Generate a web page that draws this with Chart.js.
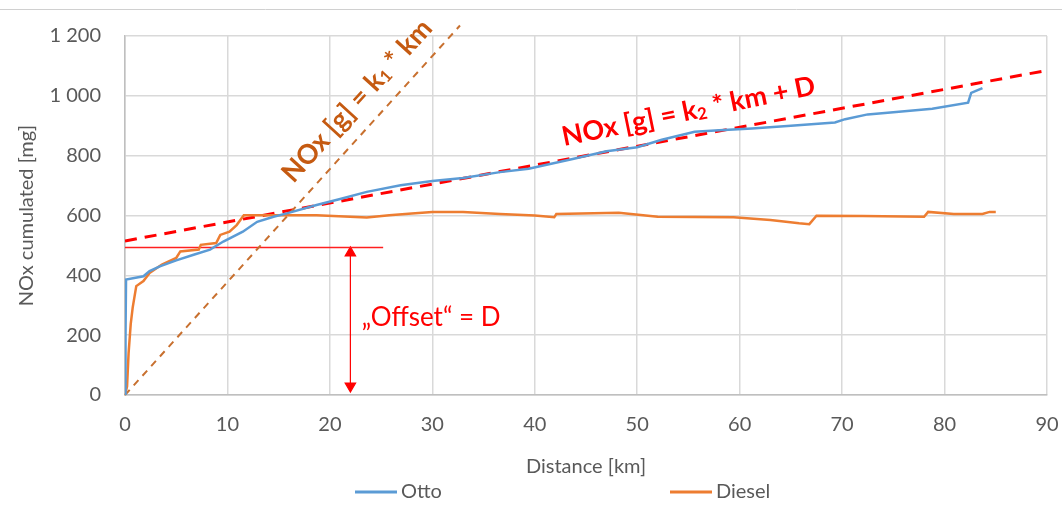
<!DOCTYPE html>
<html>
<head>
<meta charset="utf-8">
<script src="https://cdn.jsdelivr.net/npm/chart.js@4"></script>
<style>
  html, body { margin: 0; padding: 0; background: #fff; overflow: hidden; }
  #chart { display: block; }
</style>
</head>
<body>
<canvas id="chart" width="1062" height="505"></canvas>
<script>
// Otto (petrol) cumulated NOx
const ottoKm = [0, 0.05, 0.1, 1.8, 2.4, 3.4, 5, 6.7, 8.3, 9.6, 11.5, 12.9, 14.5, 15.8, 18.7, 21, 23.6, 26.9, 30, 33, 36.6, 39.4, 43.7, 47, 50, 52.4, 55.6, 58, 61.2, 65, 69.3, 70.3, 72.5, 75, 78.8, 82.3, 82.6, 83.7];
const ottoMg = [0, 200, 386, 397, 414, 430, 450, 469, 486, 513, 546, 579, 596, 607, 635, 655, 679, 701, 715, 725, 745, 756, 789, 815, 828, 853, 880, 885, 891, 900, 911, 922, 938, 945, 957, 977, 1010, 1026];

// Diesel cumulated NOx
const dieselKm = [0, 0.2, 0.35, 0.56, 0.75, 1.1, 1.8, 2.4, 3.6, 5.0, 5.4, 7.2, 7.4, 8.9, 9.3, 10.2, 10.9, 11.6, 14, 18.7, 23.6, 25.8, 28, 30, 33, 36.6, 40, 41.9, 42.1, 48.2, 52, 59.4, 63, 65.8, 66.8, 67.5, 72, 78, 78.4, 80.9, 83.7, 84.4, 85];
const dieselMg = [0, 28, 140, 238, 292, 364, 381, 408, 436, 458, 480, 486, 502, 508, 535, 546, 568, 601, 601, 601, 593, 601, 607, 612, 612, 605, 600, 594, 605, 609, 596, 594, 585, 574, 571, 599, 598, 596, 612, 605, 605, 612, 612];

// fit lines: k1 through origin, k2 with offset D
const k1Km = [0, 32.7];
const k1Mg = [0, 1235];
const k2Km = [0, 90];
const k2Mg = [515, 1085];

// offset marker
const offsetKm = [0, 25.2];
const offsetMg = [493, 493];
const arrowKm = [22, 22];
const arrowMg = [475, 30];

const xTicks = { min: 0, max: 90, step: 10 };
const yTicks = { min: 0, max: 1200, step: 200 };

const FONT = "Lato, 'Open Sans', sans-serif";
const GREY = "#595959";

const pts = (xs, ys) => xs.map((x, i) => ({ x: x, y: ys[i] }));

const annotations = {
  id: "annotations",
  beforeDraw(chart) {
    const ctx = chart.ctx;
    ctx.save();
    ctx.strokeStyle = "#d0d0d0";
    ctx.lineWidth = 1;
    ctx.beginPath();
    ctx.moveTo(0, 9.5);
    ctx.lineTo(chart.width, 9.5);
    ctx.stroke();
    ctx.restore();
  },
  afterDatasetsDraw(chart) {
    const ctx = chart.ctx;
    const xs = chart.scales.x;
    const ys = chart.scales.y;

    const drawParts = (parts, cx, cy, angle, size, color) => {
      ctx.save();
      ctx.translate(cx, cy);
      ctx.rotate(angle);
      ctx.fillStyle = color;
      ctx.textBaseline = "alphabetic";
      let total = 0;
      parts.forEach((p) => {
        ctx.font = `bold ${p.sub ? size * 0.62 : size}px ${FONT}`;
        total += ctx.measureText(p.t).width;
      });
      let x = -total / 2;
      parts.forEach((p) => {
        ctx.font = `bold ${p.sub ? size * 0.62 : size}px ${FONT}`;
        ctx.fillText(p.t, x, p.sub ? size * 0.42 : size * 0.35);
        x += ctx.measureText(p.t).width;
      });
      ctx.restore();
    };

    const angleOf = (kx, ky) =>
      Math.atan2(
        ys.getPixelForValue(ky[1]) - ys.getPixelForValue(ky[0]),
        xs.getPixelForValue(kx[1]) - xs.getPixelForValue(kx[0])
      );

    drawParts(
      [{ t: "NOx [g] = k" }, { t: "1", sub: true }, { t: " * km" }],
      xs.getPixelForValue(22.6), ys.getPixelForValue(985),
      angleOf(k1Km, k1Mg), 27, "#c55a11"
    );
    drawParts(
      [{ t: "NOx [g] = k" }, { t: "2", sub: true }, { t: " * km + D" }],
      xs.getPixelForValue(55), ys.getPixelForValue(950),
      angleOf(k2Km, k2Mg) - 0.02, 27, "#ff0000"
    );

    ctx.save();
    ctx.font = `26px ${FONT}`;
    ctx.fillStyle = "#ff0000";
    ctx.textBaseline = "alphabetic";
    ctx.fillText("\u201EOffset\u201C = D", xs.getPixelForValue(23.1), ys.getPixelForValue(232));
    ctx.restore();

    // legend
    const legend = [
      { label: "Otto", color: "#5b9bd5", x: 355 },
      { label: "Diesel", color: "#ed7d31", x: 670 },
    ];
    ctx.save();
    ctx.font = `20px ${FONT}`;
    ctx.textBaseline = "middle";
    legend.forEach((l) => {
      ctx.strokeStyle = l.color;
      ctx.lineWidth = 3;
      ctx.beginPath();
      ctx.moveTo(l.x, 492);
      ctx.lineTo(l.x + 42, 492);
      ctx.stroke();
      ctx.fillStyle = GREY;
      ctx.fillText(l.label, l.x + 46, 492);
    });
    ctx.restore();
  },
};

const init = function () {
  const canvas = document.getElementById("chart");
  new Chart(canvas, {
    type: "scatter",
    data: {
      datasets: [
        {
          label: "Otto",
          data: pts(ottoKm, ottoMg),
          showLine: true,
          borderColor: "#5b9bd5",
          borderWidth: 2.5,
          pointRadius: 0,
        },
        {
          label: "Diesel",
          data: pts(dieselKm, dieselMg),
          showLine: true,
          borderColor: "#ed7d31",
          borderWidth: 2.5,
          pointRadius: 0,
        },
        {
          label: "k1",
          data: pts(k1Km, k1Mg),
          showLine: true,
          borderColor: "#c8702f",
          borderWidth: 2,
          borderDash: [7, 6],
          pointRadius: 0,
          clip: false,
        },
        {
          label: "k2",
          data: pts(k2Km, k2Mg),
          showLine: true,
          borderColor: "#ff0000",
          borderWidth: 3,
          borderDash: [12, 8],
          pointRadius: 0,
        },
        {
          label: "offset",
          data: pts(offsetKm, offsetMg),
          showLine: true,
          borderColor: "#ff2020",
          borderWidth: 1.5,
          pointRadius: 0,
        },
        {
          label: "arrow",
          data: pts(arrowKm, arrowMg),
          showLine: true,
          borderColor: "#ff0000",
          borderWidth: 1.2,
          pointStyle: "triangle",
          pointRadius: 6,
          pointRotation: [0, 180],
          pointBackgroundColor: "#ff0000",
          pointBorderColor: "#ff0000",
        },
      ],
    },
    options: {
      responsive: false,
      animation: false,
      layout: { padding: { top: 31, right: 0, bottom: 0, left: 0 } },
      plugins: {
        legend: { display: false },
        tooltip: { enabled: false },
      },
      scales: {
        x: {
          type: "linear",
          min: xTicks.min,
          max: xTicks.max,
          ticks: {
            stepSize: xTicks.step,
            color: GREY,
            font: { family: FONT, size: 20 },
            padding: 18,
            maxRotation: 0,
          },
          grid: { color: "#d9d9d9", lineWidth: 1.5, drawTicks: false },
          border: { color: "#bfbfbf", width: 1.5 },
          title: {
            display: true,
            text: "Distance [km]",
            color: GREY,
            font: { family: FONT, size: 20 },
            padding: { top: 0, bottom: 26 },
          },
          afterFit: (scale) => {
            scale.height = 110;
            scale.paddingRight = 15;
            scale.paddingLeft = 0;
          },
        },
        y: {
          type: "linear",
          min: yTicks.min,
          max: yTicks.max,
          ticks: {
            stepSize: yTicks.step,
            color: GREY,
            font: { family: FONT, size: 20 },
            padding: 24,
            callback: (v) => String(v).replace(/\B(?=(\d{3})+(?!\d))/g, " "),
          },
          grid: { color: "#d9d9d9", lineWidth: 1.5, drawTicks: false },
          border: { color: "#bfbfbf", width: 1.5 },
          title: {
            display: true,
            text: "NOx cumulated [mg]",
            color: GREY,
            font: { family: FONT, size: 20 },
            padding: { top: 15, bottom: 0 },
          },
          afterFit: (scale) => {
            scale.width = 125;
          },
        },
      },
    },
    plugins: [annotations],
  });
};

if (document.readyState !== "loading") {
  init();
} else {
  document.addEventListener("DOMContentLoaded", init);
}
</script>
</body>
</html>
